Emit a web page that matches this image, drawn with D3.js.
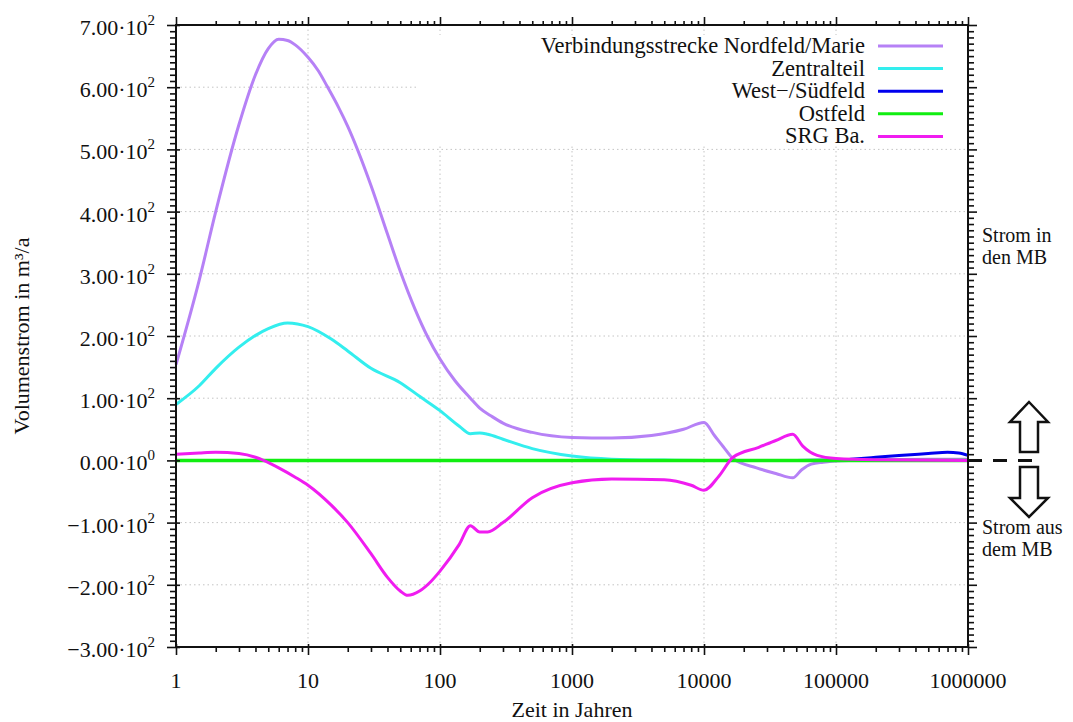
<!DOCTYPE html>
<html>
<head>
<meta charset="utf-8">
<script src="https://cdn.jsdelivr.net/npm/d3@7.9.0/dist/d3.min.js"></script>
<style>
  body { margin: 0; background: #fff; }
  svg text { font-family: "Liberation Serif", "DejaVu Serif", serif; fill: #111; }
</style>
</head>
<body>
<svg id="chart" width="1073" height="722"></svg>
<script>
// values (time in years, flow in m³/a)
const violetT = [1, 1.5, 2, 3, 4, 5, 6, 7, 8, 10, 12, 14, 17, 20, 30, 40, 50, 65, 80, 100, 130, 170, 200, 250, 300, 500, 1000, 2000, 4000, 7000, 10000, 12000, 14000, 16600, 25000, 35000, 47000, 55000, 65000, 80000, 100000, 200000, 500000, 1000000];
const violetV = [154, 290, 400, 540, 620, 662, 677, 675, 668, 648, 626, 601, 568, 537, 442, 364, 304, 242, 200, 163, 128, 100, 84, 70, 60, 45, 37, 36, 40, 50, 61, 40, 22, 3, -12, -21, -28, -15, -6, -3, -1, 1, 2, 2];

const cyanT = [1, 1.5, 2, 3, 5, 7, 10, 15, 20, 30, 50, 70, 100, 140, 170, 200, 230, 300, 500, 1000, 2000, 5000, 10000, 100000, 1000000];
const cyanV = [90, 120, 148, 182, 212, 221, 215, 195, 176, 148, 125, 103, 80, 55, 43, 44, 42, 34, 19, 7, 2, 0.5, 0, 0, 0];

const blueT = [1, 10000, 50000, 100000, 130000, 200000, 300000, 500000, 700000, 850000, 1000000];
const blueV = [0, 0, 0, 0.5, 2, 5, 8, 11, 13, 12, 8];

const greenT = [1, 10, 100, 1000, 10000, 100000, 1000000];
const greenV = [0, 0, 0, 0, 0, 0, 0];

const pinkT = [1, 1.5, 2, 3, 4, 4.6, 6, 8, 10, 15, 20, 30, 40, 50, 57, 70, 85, 100, 140, 170, 200, 230, 300, 500, 1000, 2000, 5000, 8000, 10000, 13000, 16600, 26000, 35000, 47000, 56000, 72000, 100000, 200000, 1000000];
const pinkV = [10, 12, 13, 11, 5, 0, -12, -27, -40, -72, -100, -150, -188, -210, -217, -210, -195, -178, -135, -105, -115, -115, -100, -60, -36, -30, -31, -40, -48, -25, 5, 21, 32, 42, 23, 8, 3, 1, 0];

const seriesNames = ["Verbindungsstrecke Nordfeld/Marie", "Zentralteil", "West\u2212/Südfeld", "Ostfeld", "SRG Ba."];
const seriesColors = ["#b681f6", "#33eeee", "#0000ee", "#11ee11", "#f01cf0"];
const seriesT = [violetT, cyanT, blueT, greenT, pinkT];
const seriesV = [violetV, cyanV, blueV, greenV, pinkV];

const yMajor = d3.range(-300, 701, 100);
const xMajor = [1, 10, 100, 1000, 10000, 100000, 1000000];

const svg = d3.select('#chart');
const pLeft = 176, pRight = 968, pTop = 25, pBottom = 647;

const x = d3.scaleLog().domain([1, 1e6]).range([pLeft, pRight]);
const y = d3.scaleLinear().domain([-300, 700]).range([pBottom, pTop]);

svg.append('rect').attr('width', 1073).attr('height', 722).attr('fill', '#fff');

// grid
const grid = svg.append('g').attr('stroke', '#c4c4c4').attr('stroke-width', 1).attr('stroke-dasharray', '1.5,3');
grid.selectAll('.gy').data(yMajor.slice(1, -1)).join('line')
  .attr('x1', pLeft).attr('x2', pRight).attr('y1', d => y(d)).attr('y2', d => y(d));
grid.selectAll('.gx').data(xMajor.slice(1, -1)).join('line')
  .attr('y1', pTop).attr('y2', pBottom).attr('x1', d => x(d)).attr('x2', d => x(d));

// legend background hides grid
svg.append('rect').attr('x', 418).attr('y', 35).attr('width', 548).attr('height', 111).attr('fill', '#fff');

// curves
const line = d3.line().x(d => x(d[0])).y(d => y(d[1])).curve(d3.curveMonotoneX);
seriesNames.forEach((name, i) => {
  const pts = seriesT[i].map((t, j) => [t, seriesV[i][j]]);
  svg.append('path').datum(pts)
    .attr('fill', 'none')
    .attr('stroke', seriesColors[i])
    .attr('stroke-width', i === 3 ? 3.5 : 3)
    .attr('stroke-linejoin', 'round')
    .attr('d', line);
});

// axes
const xMinor = [];
for (let e = 0; e < 6; e++) for (let k = 2; k < 10; k++) xMinor.push(k * Math.pow(10, e));
const yMinor = d3.range(-300, 701, 10).filter(v => v % 100 !== 0);

function styleAxis(g) {
  g.select('.domain').remove();
  g.selectAll('line').attr('stroke', '#111').attr('stroke-width', 1.6);
}

// minor ticks
svg.append('g').attr('transform', `translate(0,${pBottom})`)
  .call(d3.axisBottom(x).tickValues(xMinor).tickSize(5).tickFormat('')).call(styleAxis);
svg.append('g').attr('transform', `translate(0,${pTop})`)
  .call(d3.axisTop(x).tickValues(xMinor).tickSize(4).tickFormat('')).call(styleAxis);
svg.append('g').attr('transform', `translate(${pLeft},0)`)
  .call(d3.axisLeft(y).tickValues(yMinor).tickSize(6).tickFormat('')).call(styleAxis);
svg.append('g').attr('transform', `translate(${pRight},0)`)
  .call(d3.axisRight(y).tickValues(yMinor).tickSize(6).tickFormat('')).call(styleAxis);

// major ticks (outward plus a short inward stub)
svg.append('g').attr('transform', `translate(0,${pBottom})`)
  .call(d3.axisBottom(x).tickValues(xMajor).tickSize(8).tickFormat('')).call(styleAxis);
svg.append('g').attr('transform', `translate(0,${pBottom})`)
  .call(d3.axisBottom(x).tickValues(xMajor).tickSize(-3).tickFormat('')).call(styleAxis);
svg.append('g').attr('transform', `translate(0,${pTop})`)
  .call(d3.axisTop(x).tickValues(xMajor).tickSize(8).tickFormat('')).call(styleAxis);
svg.append('g').attr('transform', `translate(${pLeft},0)`)
  .call(d3.axisLeft(y).tickValues(yMajor).tickSize(9).tickFormat('')).call(styleAxis);
svg.append('g').attr('transform', `translate(${pLeft},0)`)
  .call(d3.axisLeft(y).tickValues(yMajor).tickSize(-4).tickFormat('')).call(styleAxis);
svg.append('g').attr('transform', `translate(${pRight},0)`)
  .call(d3.axisRight(y).tickValues(yMajor).tickSize(9).tickFormat('')).call(styleAxis);

// frame
svg.append('rect').attr('x', pLeft).attr('y', pTop).attr('width', pRight - pLeft).attr('height', pBottom - pTop)
  .attr('fill', 'none').attr('stroke', '#111').attr('stroke-width', 2);

// x tick labels
svg.append('g').selectAll('text').data(xMajor).join('text')
  .attr('x', d => x(d)).attr('y', 688).attr('text-anchor', 'middle')
  .attr('font-size', 22).text(d => String(d));

// y tick labels
const yl = svg.append('g').selectAll('text').data(yMajor).join('text')
  .attr('x', 155).attr('y', d => y(d) + 10).attr('text-anchor', 'end').attr('font-size', 22);
yl.append('tspan').text(d => (d < 0 ? '\u2212' : '') + (Math.abs(d) / 100).toFixed(2) + '\u00b710');
yl.append('tspan').attr('dy', -10).attr('font-size', 15).text(d => d === 0 ? '0' : '2');

// axis titles
svg.append('text').attr('x', 572).attr('y', 717).attr('text-anchor', 'middle').attr('font-size', 22).text('Zeit in Jahren');
svg.append('text').attr('transform', 'translate(29,336) rotate(-90)').attr('text-anchor', 'middle')
  .attr('font-size', 22).text('Volumenstrom in m³/a');

// legend
const lg = svg.append('g');
seriesNames.forEach((name, i) => {
  const ly = 46 + i * 22.6;
  lg.append('text').attr('x', 865).attr('y', ly + 7).attr('text-anchor', 'end').attr('font-size', 22.5).text(name);
  lg.append('line').attr('x1', 878).attr('x2', 943).attr('y1', ly).attr('y2', ly)
    .attr('stroke', seriesColors[i]).attr('stroke-width', 3);
});

// right side annotation
const ann = svg.append('g').attr('font-size', 20);
ann.append('text').attr('x', 982).attr('y', 242).text('Strom in');
ann.append('text').attr('x', 982).attr('y', 264).text('den MB');
ann.append('text').attr('x', 982).attr('y', 534).text('Strom aus');
ann.append('text').attr('x', 982).attr('y', 556).text('dem MB');

svg.append('line').attr('x1', pRight).attr('x2', 1038).attr('y1', y(0)).attr('y2', y(0))
  .attr('stroke', '#111').attr('stroke-width', 3).attr('stroke-dasharray', '14,11');

const arrowUp = [[1029, 402], [1048, 422], [1038, 422], [1038, 452], [1020, 452], [1020, 422], [1010, 422]];
const arrowDown = [[1020, 467], [1038, 467], [1038, 498], [1048, 498], [1029, 517], [1010, 498], [1020, 498]];
[arrowUp, arrowDown].forEach(p => {
  svg.append('polygon').attr('points', p.map(q => q.join(',')).join(' '))
    .attr('fill', '#fff').attr('stroke', '#111').attr('stroke-width', 2.5).attr('stroke-linejoin', 'miter');
});
</script>
</body>
</html>
